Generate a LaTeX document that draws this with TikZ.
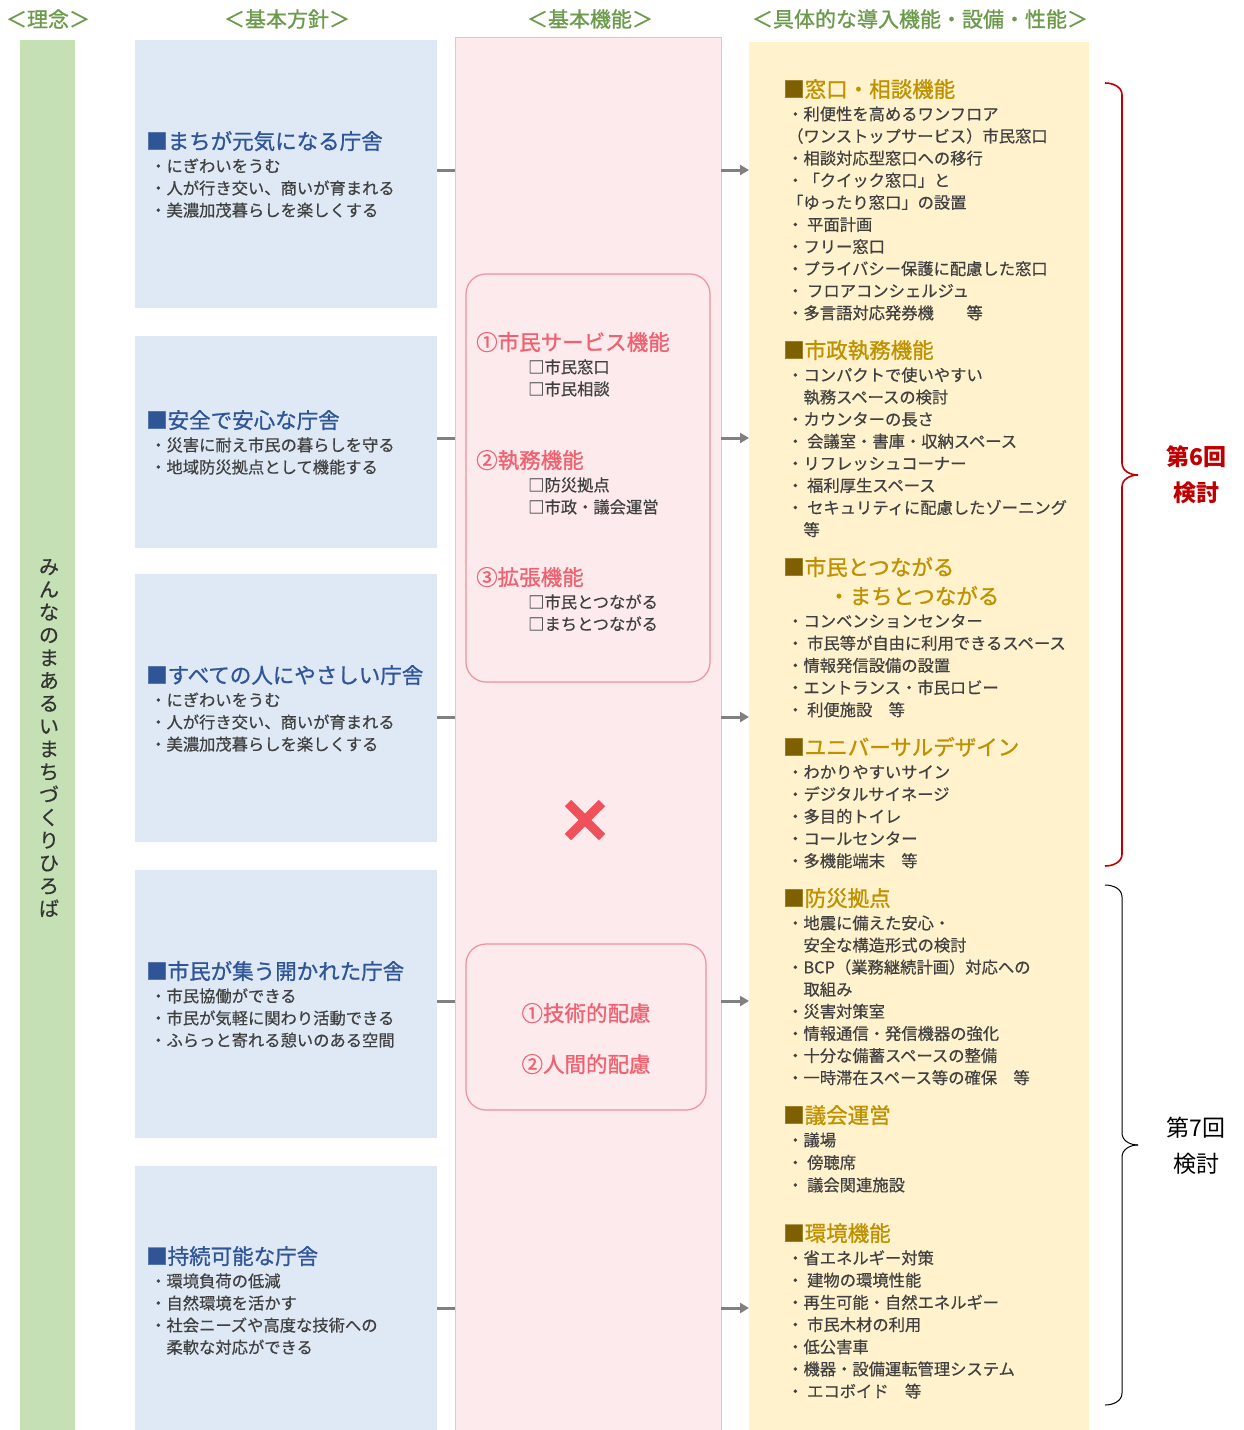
\documentclass[tikz,border=0pt]{standalone}
\usepackage{fontspec}
\setmainfont{Noto Sans CJK JP}
\newfontfamily\itemf[FakeBold=0.5]{Noto Sans CJK JP}
\newfontfamily\titlef[FakeBold=1.0]{Noto Sans CJK JP}
\usetikzlibrary{arrows.meta}
\definecolor{greenbar}{HTML}{C5E0B4}
\definecolor{hdrgreen}{HTML}{6B9A4B}
\definecolor{bluebox}{HTML}{DEE9F5}
\definecolor{tblue}{HTML}{2F5597}
\definecolor{tgray}{HTML}{404040}
\definecolor{vtext}{HTML}{333333}
\definecolor{pinkfill}{HTML}{FDEAEC}
\definecolor{pinkline}{HTML}{F4BCC4}
\definecolor{pinkbox}{HTML}{F0909A}
\definecolor{pinktext}{HTML}{F0606E}
\definecolor{yellowfill}{HTML}{FFF2CC}
\definecolor{sqbrown}{HTML}{7F6000}
\definecolor{tgold}{HTML}{BF9000}
\definecolor{braceRed}{HTML}{C00000}
\definecolor{conngray}{HTML}{808080}
\definecolor{xred}{HTML}{F0505A}
\begin{document}
\begin{tikzpicture}[x=1pt,y=-1pt,
  col/.style={draw=none, inner sep=0, outer sep=0},
  hdr/.style={text=hdrgreen, font=\titlef\fontsize{21}{24}\selectfont, inner sep=0},
  btitle/.style={anchor=west, text=tblue, font=\titlef\fontsize{21.5}{24}\selectfont, inner sep=0, text height=19pt, text depth=2.5pt},
  ytitle/.style={anchor=west, text=tgold, font=\titlef\fontsize{21.5}{24}\selectfont, inner sep=0, text height=19pt, text depth=2.5pt},
  ptitle/.style={anchor=west, text=pinktext, font=\titlef\fontsize{21.5}{24}\selectfont, inner sep=0, text height=19pt, text depth=2.5pt},
  item/.style={anchor=west, text=tgray, font=\itemf\fontsize{16.3}{20}\selectfont, inner sep=0, text height=14.3pt, text depth=2pt},
  conn/.style={draw=conngray, line width=3pt},
  arr/.style={draw=conngray, line width=3pt, -{Triangle[length=9pt,width=10pt]}},
  innerbox/.style={draw=pinkbox, line width=1.2pt, rounded corners=20pt, fill=pinkfill, inner sep=0},
]
\useasboundingbox (0,0) rectangle (1244,1430);
\fill[white] (0,0) rectangle (1244,1430);

% headers
\node[hdr] (h1) at (48,19) {＜理念＞};
\node[hdr] (h2) at (287,19) {＜基本方針＞};
\node[hdr] (h3) at (590,19) {＜基本機能＞};
\node[hdr] (h4) at (920,19) {＜具体的な導入機能・設備・性能＞};

% columns
\node[col, fill=greenbar, minimum width=55pt, minimum height=1392pt] (gb) at (47.5,736) {};
\node[col, fill=pinkfill, draw=pinkline, line width=0.8pt, minimum width=266pt, minimum height=1396pt] (pk) at (588,735) {};
\node[col, fill=yellowfill, minimum width=340pt, minimum height=1392pt] (yl) at (919,738) {};

% vertical text
\node[font=\itemf\fontsize{20}{22.8}\selectfont, align=center, text=vtext, inner sep=0] (vt) at (49,738)
  {み\\ん\\な\\の\\ま\\あ\\る\\い\\ま\\ち\\づ\\く\\り\\ひ\\ろ\\ば};

% blue boxes
\node[col, fill=bluebox, minimum width=302pt, minimum height=268pt] (b1) at (286,174) {};
\node[col, fill=bluebox, minimum width=302pt, minimum height=212pt] (b2) at (286,442) {};
\node[col, fill=bluebox, minimum width=302pt, minimum height=268pt] (b3) at (286,708) {};
\node[col, fill=bluebox, minimum width=302pt, minimum height=268pt] (b4) at (286,1004) {};
\node[col, fill=bluebox, minimum width=302pt, minimum height=266pt] (b5) at (286,1299) {};

\node[btitle] (b1t) at (146,141) {■まちが元気になる庁舎};
\foreach \t [count=\i] in {・にぎわいをうむ, ・人が行き交い、商いが育まれる, ・美濃加茂暮らしを楽しくする}
  \node[item] (b1i\i) at (150,{166+(\i-1)*22.1}) {\t};
\node[btitle] (b2t) at (146,420) {■安全で安心な庁舎};
\foreach \t [count=\i] in {・災害に耐え市民の暮らしを守る, ・地域防災拠点として機能する}
  \node[item] (b2i\i) at (150,{445+(\i-1)*22.1}) {\t};
\node[btitle] (b3t) at (146,675) {■すべての人にやさしい庁舎};
\foreach \t [count=\i] in {・にぎわいをうむ, ・人が行き交い、商いが育まれる, ・美濃加茂暮らしを楽しくする}
  \node[item] (b3i\i) at (150,{700+(\i-1)*22.1}) {\t};
\node[btitle] (b4t) at (146,971) {■市民が集う開かれた庁舎};
\foreach \t [count=\i] in {・市民協働ができる, ・市民が気軽に関わり活動できる, ・ふらっと寄れる憩いのある空間}
  \node[item] (b4i\i) at (150,{996+(\i-1)*22.1}) {\t};
\node[btitle] (b5t) at (146,1256) {■持続可能な庁舎};
\foreach \t [count=\i] in {・環境負荷の低減, ・自然環境を活かす, ・社会ニーズや高度な技術への, 　柔軟な対応ができる}
  \node[item] (b5i\i) at (150,{1281+(\i-1)*22.1}) {\t};

% inner pink boxes
\node[innerbox, minimum width=244pt, minimum height=408pt] (ib1) at (588,478) {};
\node[innerbox, minimum width=240pt, minimum height=166pt] (ib2) at (586,1027) {};

\node[ptitle] (p1) at (476,342) {①市民サービス機能};
\node[item] (p1a) at (528,367) {□市民窓口};
\node[item] (p1b) at (528,389) {□市民相談};
\node[ptitle] (p2) at (476,460) {②執務機能};
\node[item] (p2a) at (528,485) {□防災拠点};
\node[item] (p2b) at (528,507) {□市政・議会運営};
\node[ptitle] (p3) at (476,577) {③拡張機能};
\node[item] (p3a) at (528,602) {□市民とつながる};
\node[item] (p3b) at (528,624) {□まちとつながる};

\node[ptitle, anchor=center] (q1) at (586,1013) {①技術的配慮};
\node[ptitle, anchor=center] (q2) at (586,1064) {②人間的配慮};

% red cross
\draw[xred, line width=9pt] (568,803) -- (602,837);
\draw[xred, line width=9pt] (602,803) -- (568,837);

% right column
\node[ytitle] (y1t) at (783,89) {{\color{sqbrown}■}窓口・相談機能};
\foreach \t [count=\i] in {・利便性を高めるワンフロア, （ワンストップサービス）市民窓口, ・相談対応型窓口への移行, ・「クイック窓口」と, 「ゆったり窓口」の設置, ・ 平面計画, ・フリー窓口, ・プライバシー保護に配慮した窓口, ・ フロアコンシェルジュ, ・多言語対応発券機　　等}
  \node[item] (y1i\i) at (787,{114+(\i-1)*22.1}) {\t};

\node[ytitle] (y2t) at (783,350) {{\color{sqbrown}■}市政執務機能};
\foreach \t [count=\i] in {・コンパクトで使いやすい, 　執務スペースの検討, ・カウンターの長さ, ・ 会議室・書庫・収納スペース, ・リフレッシュコーナー, ・ 福利厚生スペース, ・ セキュリティに配慮したゾーニング, 　等}
  \node[item] (y2i\i) at (787,{375+(\i-1)*22.1}) {\t};

\node[ytitle] (y3t) at (783,567) {{\color{sqbrown}■}市民とつながる};
\node[ytitle] (y3u) at (828,596) {・まちとつながる};
\foreach \t [count=\i] in {・コンベンションセンター, ・ 市民等が自由に利用できるスペース, ・情報発信設備の設置, ・エントランス・市民ロビー, ・ 利便施設　等}
  \node[item] (y3i\i) at (787,{621+(\i-1)*22.2}) {\t};

\node[ytitle] (y4t) at (783,747) {{\color{sqbrown}■}ユニバーサルデザイン};
\foreach \t [count=\i] in {・わかりやすいサイン, ・デジタルサイネージ, ・多目的トイレ, ・コールセンター, ・多機能端末　等}
  \node[item] (y4i\i) at (787,{772+(\i-1)*22.2}) {\t};

\node[ytitle] (y5t) at (783,898) {{\color{sqbrown}■}防災拠点};
\foreach \t [count=\i] in {・地震に備えた安心・, 　安全な構造形式の検討, ・BCP（業務継続計画）対応への, 　取組み, ・災害対策室, ・情報通信・発信機器の強化, ・十分な備蓄スペースの整備, ・一時滞在スペース等の確保　等}
  \node[item] (y5i\i) at (787,{923+(\i-1)*22.1}) {\t};

\node[ytitle] (y6t) at (783,1115) {{\color{sqbrown}■}議会運営};
\foreach \t [count=\i] in {・議場, ・ 傍聴席, ・ 議会関連施設}
  \node[item] (y6i\i) at (787,{1140+(\i-1)*22.5}) {\t};

\node[ytitle] (y7t) at (783,1233) {{\color{sqbrown}■}環境機能};
\foreach \t [count=\i] in {・省エネルギー対策, ・ 建物の環境性能, ・再生可能・自然エネルギー, ・ 市民木材の利用, ・低公害車, ・機器・設備運転管理システム, ・ エコボイド　等}
  \node[item] (y7i\i) at (787,{1258+(\i-1)*22.2}) {\t};

% connectors
\coordinate (l1) at (0,170);
\coordinate (l2) at (0,438);
\coordinate (l3) at (0,717);
\coordinate (l4) at (0,1001);
\coordinate (l5) at (0,1308);
\foreach \k in {1,...,5}{
  \draw[conn] (b\k.east |- l\k) -- (pk.west |- l\k);
  \draw[arr] (pk.east |- l\k) -- (yl.west |- l\k);
}

% braces
\draw[braceRed, line width=1.6pt] (1105,83) to[out=0,in=90] (1122,95) -- (1122,463) to[out=270,in=180] (1138,475);
\draw[braceRed, line width=1.6pt] (1138,475) to[out=180,in=90] (1122,487) -- (1122,854) to[out=270,in=0] (1105,866);
\draw[black, line width=1pt] (1105,885) to[out=0,in=90] (1122,897) -- (1122,1133) to[out=270,in=180] (1138,1145);
\draw[black, line width=1pt] (1138,1145) to[out=180,in=90] (1122,1157) -- (1122,1393) to[out=270,in=0] (1105,1405);

\node[font=\fontsize{23}{36}\selectfont\bfseries, text=braceRed, align=center, inner sep=0] (lab6) at (1196,475) {第6回\\検討};
\node[font=\fontsize{23}{36}\selectfont, text=black, align=center, inner sep=0] (lab7) at (1196,1146) {第7回\\検討};
\end{tikzpicture}
\end{document}
